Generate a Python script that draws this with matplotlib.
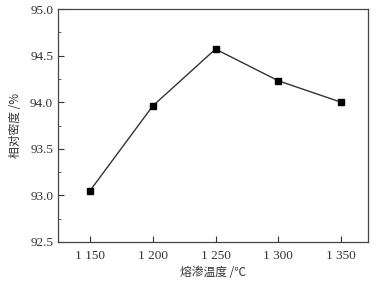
import matplotlib
matplotlib.use("Agg")
import matplotlib.pyplot as plt
from matplotlib.ticker import MultipleLocator

temps = [1150, 1200, 1250, 1300, 1350]
density = [93.05, 93.96, 94.57, 94.23, 94.00]
xtick_labels = ["1 150", "1 200", "1 250", "1 300", "1 350"]

plt.rcParams['font.family'] = ['Liberation Serif', 'Noto Sans CJK SC']
plt.rcParams['font.size'] = 9.5

fig = plt.figure(figsize=(3.77, 2.83), dpi=100)
ax = fig.add_axes([58 / 377, 1 - 242 / 283, 310 / 377, 233 / 283])

ax.plot(temps, density, color='#333333', linewidth=1.0, marker='s',
        markersize=3.8, markerfacecolor='black', markeredgecolor='black')

ax.set_xlim(1124.5, 1371.5)
ax.set_ylim(92.5, 95.0)
ax.set_xticks(temps)
ax.set_xticklabels(xtick_labels)
ax.yaxis.set_major_locator(MultipleLocator(0.5))
ax.yaxis.set_minor_locator(MultipleLocator(0.25))
ax.yaxis.set_major_formatter(matplotlib.ticker.FormatStrFormatter('%.1f'))
ax.tick_params(direction='in', which='both', color='#444444')
ax.tick_params(which='major', length=4)
ax.tick_params(which='minor', length=2.5)
ax.tick_params(axis='x', pad=6)
ax.tick_params(axis='both', labelsize=9.5, colors='#333333', labelcolor='#333333')
for s in ax.spines.values():
    s.set_color('#444444')
    s.set_linewidth(0.9)

ax.set_xlabel('熔渗温度 /℃', fontsize=8.5, color='#333333',
              family=['Noto Sans CJK SC', 'DejaVu Sans'], labelpad=3)
ax.set_ylabel('相对密度 /%', fontsize=8.5, color='#333333',
              family=['Noto Sans CJK SC', 'DejaVu Sans'], labelpad=6)

fig.savefig('out.png', dpi=100)
